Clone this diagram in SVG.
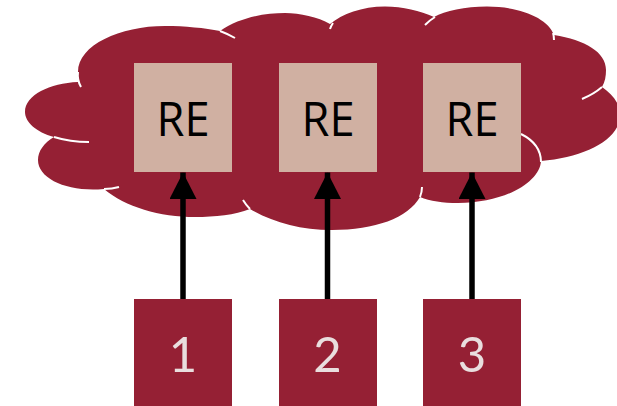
<svg xmlns="http://www.w3.org/2000/svg" width="617" height="406" viewBox="0 0 617 406">
<defs>
<style>
.cl{fill:#952034}
.seam{fill:none;stroke:#fff;stroke-width:2;stroke-linecap:butt}
.re{fill:#D0B0A2}
.b{fill:#952034}
.t{text-anchor:middle}
.tre{font-family:"Open Sans","Noto Sans",sans-serif;font-size:47px;fill:#000}
.tn{font-family:Lato,"Open Sans",sans-serif;font-size:49px;font-weight:400;fill:#E9DEDE}
.c{stroke:#000;stroke-width:5.5;fill:none;marker-end:url(#ah)}
</style>
<marker id="ah" markerUnits="userSpaceOnUse" markerWidth="27" markerHeight="27" refX="26.500" refY="13.500" orient="auto"><path d="M0 0L26.500 13.500L0 27Z" fill="#000"/></marker>
</defs>
<g id="cloud">
<path class="cl" d="M78 72C78 45 120 26 165 26C185 26 205 28 220 31C240 17 265 13 285 13C300 13 318 17 330 24C342 14 362 6.500 385 6.500C403 6.500 420 11 434 17C445 11 465 6.500 487 6.500C520 6.500 548 18 554 35C585 40 606 52 606 70C606 76 605 82 602 87C612 94 620 103 620 115C620 140 585 157 541 161C540 182 505 203 458 203C443 203 430 201 420 197C408 218 375 230 332 230C300 230 272 222 250 209C235 215 215 217 195 217C160 217 125 207 104 189C100 189.500 96 189.500 93 189.500C62 189.500 38 177 38 160C38 151 44 143 54 137C36 132 25 122 25 112C25 95 50 83 78 82Z"/>
<path class="seam" d="M220 31Q228 34 235 38"/>
<path class="seam" d="M78 72Q77 80 81 87"/>
<path class="seam" d="M54 137Q70 142 89 142"/>
<path class="seam" d="M104 189Q112 189 119 187"/>
<path class="seam" d="M243 200Q246 205 250 209"/>
<path class="seam" d="M330 29Q331 26 333 23"/>
<path class="seam" d="M425 25Q430 20 435 17"/>
<path class="seam" d="M553 33Q554 36 554 40"/>
<path class="seam" d="M582 99Q594 94 602 87"/>
<path class="seam" d="M521 134Q541 144 541 162"/>
<path class="seam" d="M422 187Q422 192 420 197"/>
</g>
<g id="node-re1"><rect class="re" x="134" y="63" width="98" height="109"/><text class="t tre" x="183" y="136" textLength="53" lengthAdjust="spacingAndGlyphs">RE</text></g>
<g id="node-re2"><rect class="re" x="279" y="63" width="98" height="109"/><text class="t tre" x="328" y="136" textLength="53" lengthAdjust="spacingAndGlyphs">RE</text></g>
<g id="node-re3"><rect class="re" x="423" y="63" width="98" height="109"/><text class="t tre" x="472" y="136" textLength="53" lengthAdjust="spacingAndGlyphs">RE</text></g>
<g id="node-1"><rect class="b" x="134" y="299" width="98" height="107"/><text class="t tn" x="183" y="372">1</text></g>
<g id="node-2"><rect class="b" x="279" y="299" width="98" height="107"/><text class="t tn" x="327.500" y="372">2</text></g>
<g id="node-3"><rect class="b" x="423" y="299" width="98" height="107"/><text class="t tn" x="472" y="372">3</text></g>
<g id="connectors">
<line class="c" x1="183" y1="299" x2="183" y2="172.500"/>
<line class="c" x1="327.500" y1="299" x2="327.500" y2="172.500"/>
<line class="c" x1="472" y1="299" x2="472" y2="172.500"/>
</g>
</svg>
